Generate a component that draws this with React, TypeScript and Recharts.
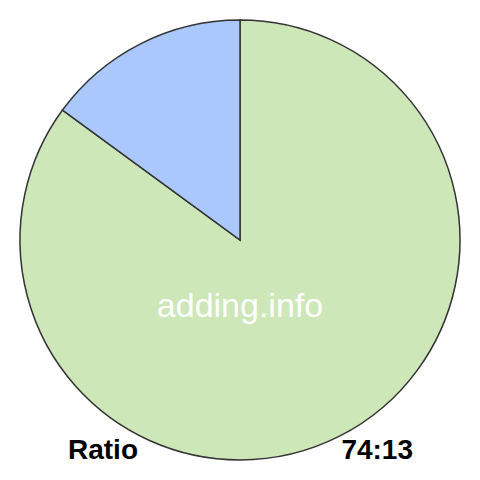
import { PieChart, Pie, Cell } from "recharts";

const LABELS = ["A", "B"];
const VALUES = [74, 13];
const COLORS = ["#cde7b9", "#aac8fc"];
const WATERMARK = "adding.info";
const TITLE = "Ratio";
const RATIO_TEXT = "74:13";

const data = LABELS.map((name, i) => ({ name, value: VALUES[i] }));

const font = "Liberation Sans, Arial, sans-serif";

export default function App() {
  return (
    <div
      style={{
        position: "absolute",
        left: 0,
        top: 0,
        width: 480,
        height: 480,
        background: "#fff",
      }}
    >
      <PieChart width={480} height={480} margin={{ top: 0, right: 0, bottom: 0, left: 0 }}>
        <Pie
          data={data}
          dataKey="value"
          cx={240}
          cy={240}
          outerRadius={220}
          startAngle={90}
          endAngle={-270}
          stroke="#333"
          strokeWidth={1.5}
          isAnimationActive={false}
        >
          {data.map((d, i) => (
            <Cell key={d.name} fill={COLORS[i]} />
          ))}
        </Pie>
      </PieChart>
      {/* overlay texts drawn above the pie */}
      <svg
        width={480}
        height={480}
        style={{ position: "absolute", left: 0, top: 0, pointerEvents: "none" }}
      >
        <text x={240} y={317} textAnchor="middle" fill="#fff" fontFamily={font} fontSize={34}>
          {WATERMARK}
        </text>
        <text x={68} y={459} fill="#000" fontFamily={font} fontWeight="bold" fontSize={28}>
          {TITLE}
        </text>
        <text
          x={413}
          y={459}
          textAnchor="end"
          fill="#000"
          fontFamily={font}
          fontWeight="bold"
          fontSize={28}
        >
          {RATIO_TEXT}
        </text>
      </svg>
    </div>
  );
}
